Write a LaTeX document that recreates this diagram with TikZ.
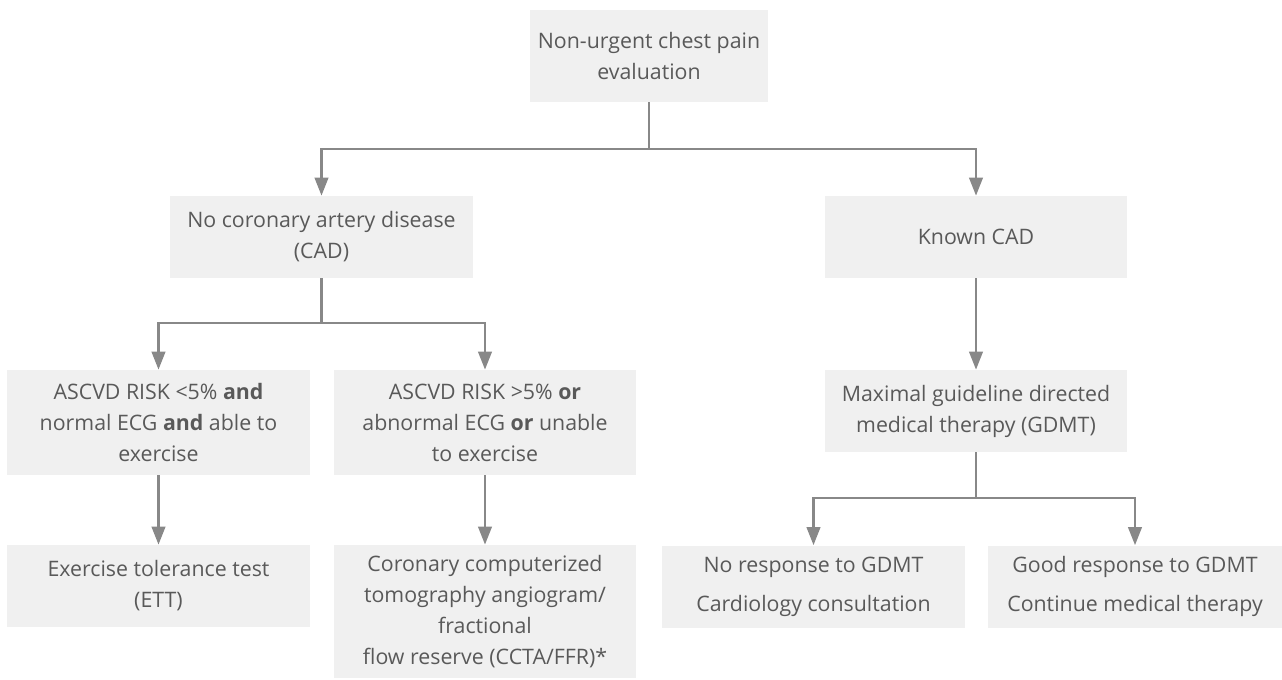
\documentclass[tikz,border=0pt]{standalone}
\usepackage{fontspec}
\setmainfont{Open Sans}
\usetikzlibrary{arrows.meta,positioning}
\definecolor{boxgray}{RGB}{240,240,240}
\definecolor{textgray}{RGB}{89,89,89}
\definecolor{linegray}{RGB}{136,136,136}

\begin{document}
\begin{tikzpicture}[
    x=0.75pt, y=-0.75pt,
    box/.style={rectangle, fill=boxgray, text=textgray, align=center, inner sep=0pt,
        minimum width=227pt, minimum height=61.5pt, font=\fontsize{16}{23.25}\selectfont},
    link/.style={draw=linegray, line width=2.1pt},
    flow/.style={link, -{Triangle[length=13.5pt, width=10pt]}}
]
    \useasboundingbox (0,0) rectangle (1282,679);

    % Start
    \node[box, minimum width=178.5pt, minimum height=69pt] (eval) at (649,56) {Non-urgent chest pain\\evaluation};

    % Level 1
    \node[box] (nocad) at (321.5,237) {No coronary artery disease\\(CAD)};
    \node[box] (known) at (976,237) {Known CAD};

    % Level 2
    \node[box, minimum height=78.75pt] (lowrisk) at (158.5,422.5) {ASCVD RISK <5\% \textbf{and}\\normal ECG \textbf{and} able to\\exercise};
    \node[box, minimum height=78.75pt] (highrisk) at (485,422.5) {ASCVD RISK >5\% \textbf{or}\\abnormal ECG \textbf{or} unable\\to exercise};
    \node[box] (gdmt) at (976,411) {Maximal guideline directed\\medical therapy (GDMT)};

    % Level 3
    \node[box] (ett) at (158.5,586) {Exercise tolerance test\\(ETT)};
    \node[box, minimum height=99.75pt] (ccta) at (485,611.5) {Coronary computerized\\tomography angiogram/\\fractional\\flow reserve (CCTA/FFR)*};
    \node[box] (noresp) at (813.5,586.5) {No response to GDMT\\[6pt]Cardiology consultation};
    \node[box, minimum width=220.5pt] (goodresp) at (1135,586.5) {Good response to GDMT\\[6pt]Continue medical therapy};

    % Split points
    \coordinate (split1) at (649,149);
    \coordinate (split2) at (321.5,323);
    \coordinate (split3) at (976,498);

    % Edges
    \draw[link] (eval) -- (split1);
    \draw[flow] (split1) -| (nocad);
    \draw[flow] (split1) -| (known);
    \draw[link] (nocad) -- (split2);
    \draw[flow] (split2) -| (lowrisk);
    \draw[flow] (split2) -| (highrisk);
    \draw[flow] (lowrisk) -- (ett);
    \draw[flow] (highrisk) -- (ccta);
    \draw[flow] (known) -- (gdmt);
    \draw[link] (gdmt) -- (split3);
    \draw[flow] (split3) -| (noresp);
    \draw[flow] (split3) -| (goodresp);
\end{tikzpicture}
\end{document}
